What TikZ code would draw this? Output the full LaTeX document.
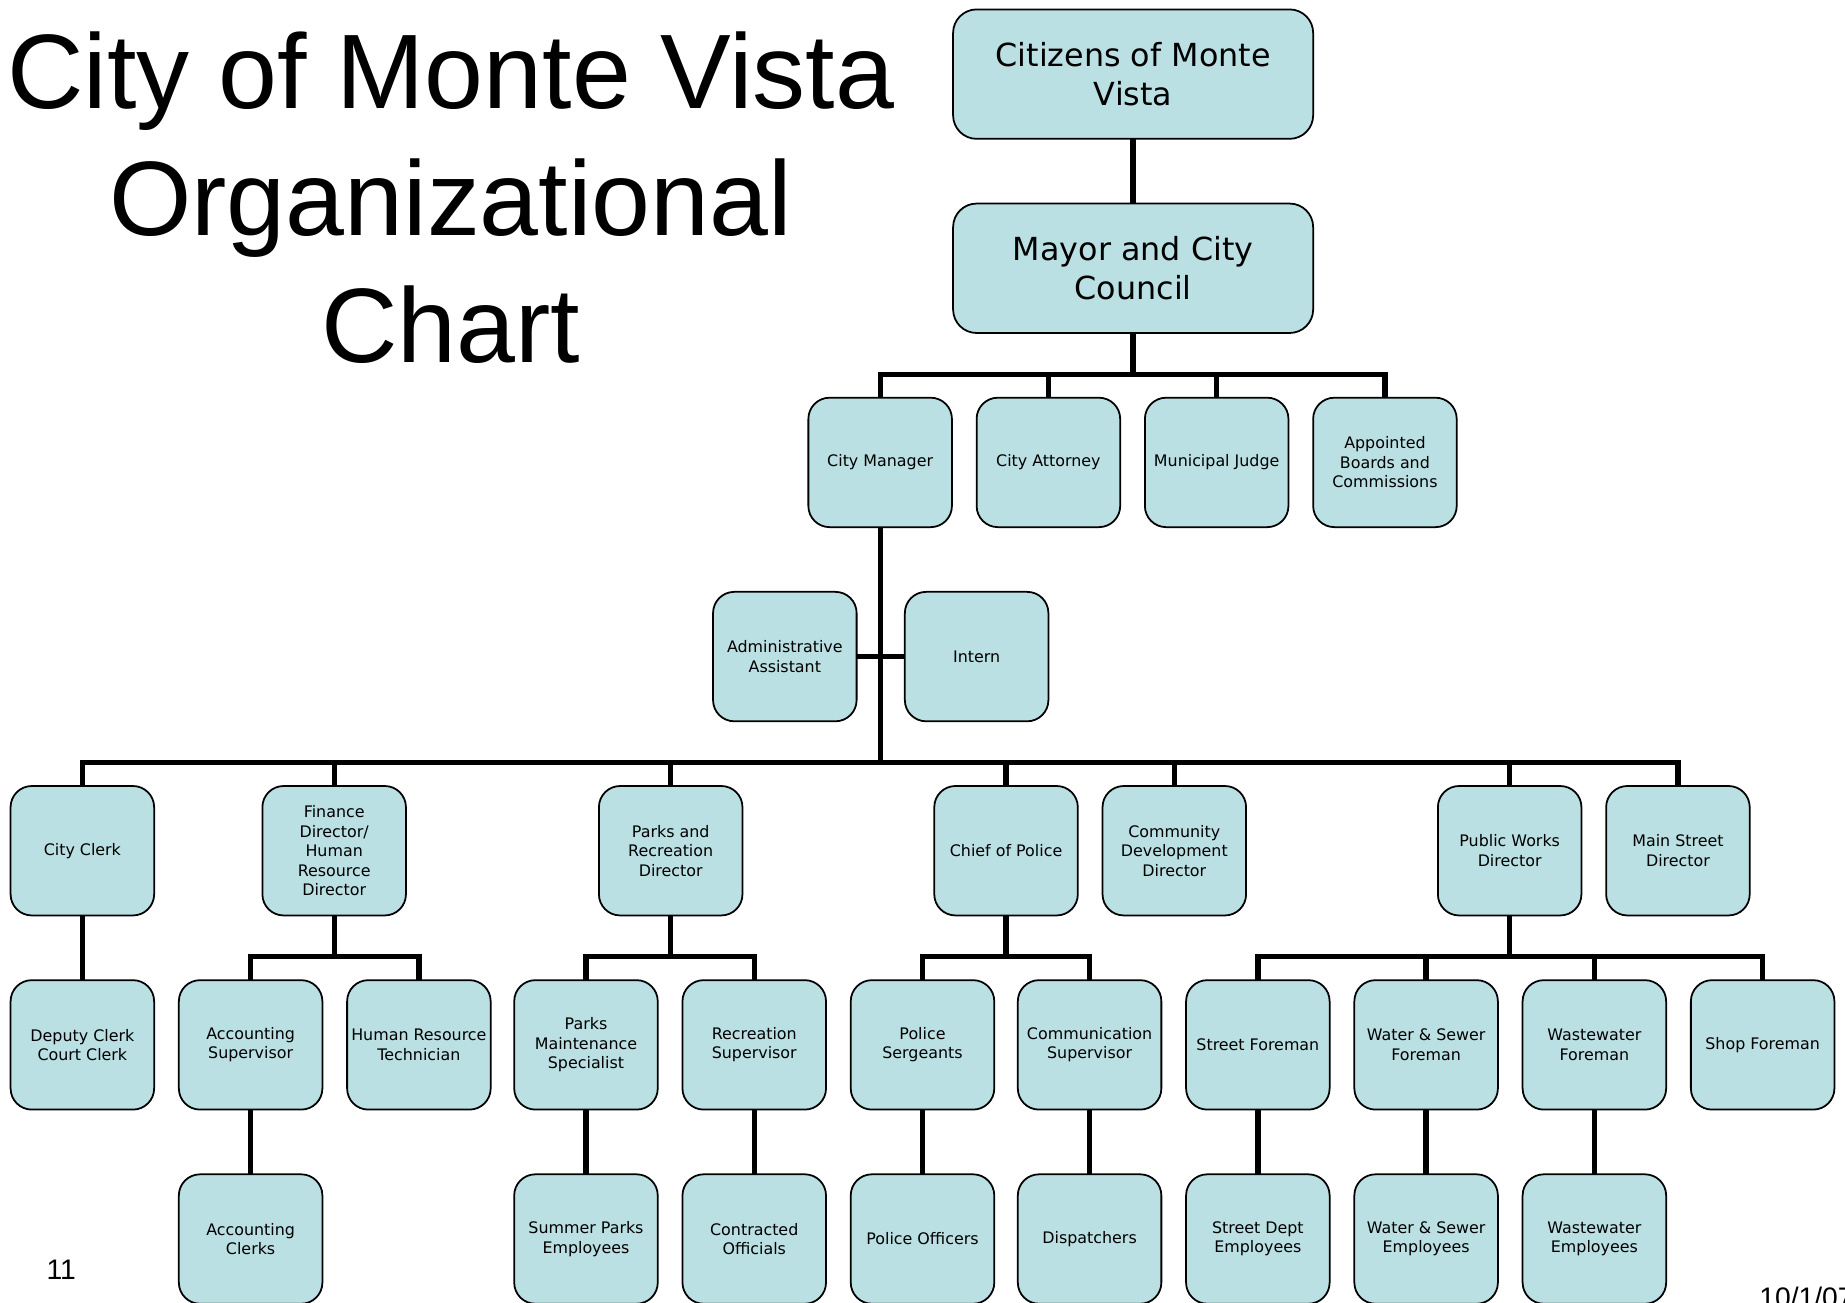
\documentclass[tikz,border=0pt]{standalone}
\usepackage{fontspec}
\setmainfont{DejaVu Sans}
\newfontfamily\titlefont{Liberation Sans}
\definecolor{boxfill}{RGB}{187,224,227}
\begin{document}
\begin{tikzpicture}[x=1pt,y=-1pt,
  box/.style={draw=black, line width=1.5pt, fill=boxfill, rounded corners=18pt,
    minimum width=122pt, minimum height=110pt, inner sep=0pt, align=center,
    font=\fontsize{13.5}{16.5}\selectfont},
  bigbox/.style={box, minimum width=306pt, rounded corners=20pt,
    font=\fontsize{27}{33}\selectfont},
  conn/.style={line width=4.5pt, line join=miter},
  ttl/.style={font=\titlefont\fontsize{90}{108}\selectfont, anchor=base, inner sep=0pt},
  foot/.style={font=\titlefont\fontsize{24}{24}\selectfont, inner sep=0pt}]
\useasboundingbox (0,0) rectangle (1568,1107);
\clip (0,0) rectangle (1568,1107);

% title
\node[ttl] (t1) at (383,92) {City of Monte Vista};
\node[ttl] (t2) at (383,200) {Organizational};
\node[ttl] (t3) at (383,308) {Chart};

% bus coordinates
\coordinate (bus2) at (0,318);
\coordinate (bus4) at (0,648);
\coordinate (bus5) at (0,813);

% connectors
\draw[conn] (963,118) -- (963,173);
\draw[conn] (963,283) -- (963,318);
\draw[conn] (748,338) |- (1177,318) -- (1177,338);
\draw[conn] (891,338) -- (891,318);
\draw[conn] (1034,338) -- (1034,318);
\draw[conn] (748,448) -- (748,648);
\draw[conn] (728,558) -- (769,558);
\draw[conn] (70,668) |- (1426,648) -- (1426,668);
\foreach \x in {284,570,855,998,1283} \draw[conn] (\x,668) -- (\x,648);
\draw[conn] (70,778) -- (70,833);
\foreach \p/\a/\b in {284/213/356,570/498/641,855/784/926,1283/1069/1498} {
  \draw[conn] (\p,778) -- (\p,813);
  \draw[conn] (\a,833) |- (\b,813) -- (\b,833);
}
\foreach \x in {1212,1355} \draw[conn] (\x,833) -- (\x,813);
\foreach \x in {213,498,641,784,926,1069,1212,1355} \draw[conn] (\x,943) -- (\x,998);

% boxes
\node[bigbox] (cit) at (963,63) {Citizens of Monte\\Vista};
\node[bigbox] (may) at (963,228) {Mayor and City\\Council};

\node[box] (cm) at (748,393) {City Manager};
\node[box] (att) at (891,393) {City Attorney};
\node[box] (jdg) at (1034,393) {Municipal Judge};
\node[box] (bds) at (1177,393) {Appointed\\Boards and\\Commissions};

\node[box] (aa) at (667,558) {Administrative\\Assistant};
\node[box] (intern) at (830,558) {Intern};

\node[box] (clerk) at (70,723) {City Clerk};
\node[box] (fin) at (284,723) {Finance\\Director/\\Human\\Resource\\Director};
\node[box] (parks) at (570,723) {Parks and\\Recreation\\Director};
\node[box] (police) at (855,723) {Chief of Police};
\node[box] (comdev) at (998,723) {Community\\Development\\Director};
\node[box] (pw) at (1283,723) {Public Works\\Director};
\node[box] (mainst) at (1426,723) {Main Street\\Director};

\node[box] (deputy) at (70,888) {Deputy Clerk\\Court Clerk};
\node[box] (accsup) at (213,888) {Accounting\\Supervisor};
\node[box] (hrtech) at (356,888) {Human Resource\\Technician};
\node[box] (pmaint) at (498,888) {Parks\\Maintenance\\Specialist};
\node[box] (recsup) at (641,888) {Recreation\\Supervisor};
\node[box] (sgts) at (784,888) {Police\\Sergeants};
\node[box] (comsup) at (926,888) {Communication\\Supervisor};
\node[box] (street) at (1069,888) {Street Foreman};
\node[box] (wsf) at (1212,888) {Water \& Sewer\\Foreman};
\node[box] (wwf) at (1355,888) {Wastewater\\Foreman};
\node[box] (shop) at (1498,888) {Shop Foreman};

\node[box] (accclk) at (213,1053) {Accounting\\Clerks};
\node[box] (summer) at (498,1053) {Summer Parks\\Employees};
\node[box] (contract) at (641,1053) {Contracted\\Officials};
\node[box] (officers) at (784,1053) {Police Officers};
\node[box] (dispatch) at (926,1053) {Dispatchers};
\node[box] (stemp) at (1069,1053) {Street Dept\\Employees};
\node[box] (wsemp) at (1212,1053) {Water \& Sewer\\Employees};
\node[box] (wwemp) at (1355,1053) {Wastewater\\Employees};

% footer
\node[foot, anchor=base] (pg) at (52,1087) {11};
\node[foot, anchor=base west] (dt) at (1495,1111) {10/1/07};
\end{tikzpicture}
\end{document}
